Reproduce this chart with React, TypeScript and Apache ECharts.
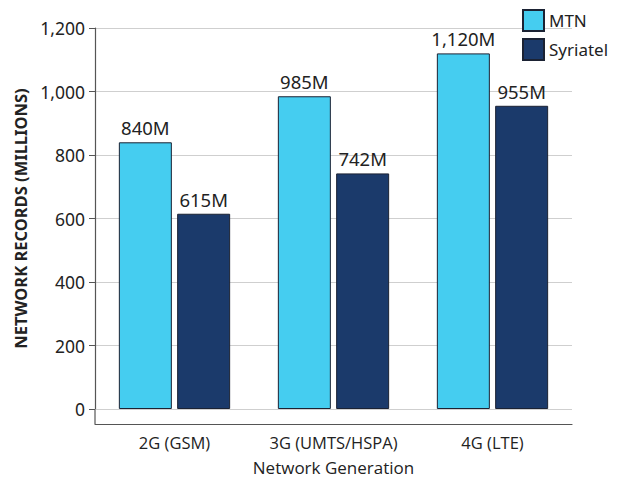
import { useEffect, useRef } from 'react'
import * as echarts from 'echarts'

const categories = ['2G (GSM)', '3G (UMTS/HSPA)', '4G (LTE)']
const mtn = [840, 985, 1120]
const syriatel = [615, 742, 955]
const seriesNames = ['MTN', 'Syriatel']

const fmt = (v: number) => v.toLocaleString('en-US')

export default function App() {
  const ref = useRef<HTMLDivElement>(null)

  useEffect(() => {
    if (!ref.current) return
    const chart = echarts.init(ref.current, undefined, { renderer: 'svg' })
    const font = "'Noto Sans', sans-serif"
    const border = { borderColor: '#1b2233', borderWidth: 1 }
    chart.setOption({
      animation: false,
      backgroundColor: '#ffffff',
      textStyle: { fontFamily: font },
      grid: { left: 95, right: 70, top: 28, bottom: 80 },
      legend: {
        orient: 'vertical',
        left: 522,
        top: 9,
        padding: 0,
        itemWidth: 21,
        itemHeight: 21,
        itemGap: 6,
        icon: 'rect',
        textStyle: { fontSize: 17, color: '#222', fontFamily: font },
        data: seriesNames,
      },
      xAxis: {
        type: 'category',
        data: categories,
        offset: 15,
        axisLine: { onZero: false, lineStyle: { color: '#555', width: 1.2 } },
        axisTick: { alignWithLabel: true, length: 6, lineStyle: { color: '#555' } },
        axisLabel: { interval: 0, hideOverlap: false, fontSize: 16.5, color: '#222', margin: 10, fontFamily: "'Open Sans', sans-serif" },
        name: 'Network Generation',
        nameLocation: 'middle',
        nameGap: 35,
        nameTextStyle: { fontSize: 17, color: '#222', fontFamily: "'Open Sans', sans-serif" },
      },
      yAxis: {
        type: 'value',
        min: 0,
        max: 1200,
        interval: 200,
        axisLine: { show: true, lineStyle: { color: '#555', width: 1.2 } },
        axisTick: { show: true, length: 6, lineStyle: { color: '#555' } },
        axisLabel: { fontSize: 17.5, color: '#222', margin: 10, formatter: (v: number) => fmt(v) },
        splitLine: { lineStyle: { color: '#cfcfcf' } },
        name: 'NETWORK RECORDS (MILLIONS)',
        nameLocation: 'middle',
        nameGap: 66,
        nameTextStyle: { fontSize: 16.5, fontWeight: 'bold', color: '#222' },
      },
      series: [
        {
          name: seriesNames[0],
          type: 'bar',
          data: mtn,
          barWidth: 53,
          barGap: '10%',
          itemStyle: { color: '#45cdf0', ...border },
          label: { show: true, position: 'top', distance: 5, fontSize: 18.5, color: '#222', formatter: (p: any) => fmt(p.value) + 'M' },
        },
        {
          name: seriesNames[1],
          type: 'bar',
          data: syriatel,
          barWidth: 53,
          barGap: '10%',
          itemStyle: { color: '#1b3a6b', ...border },
          label: { show: true, position: 'top', distance: 5, fontSize: 18.5, color: '#222', formatter: (p: any) => fmt(p.value) + 'M' },
        },
      ],
      graphic: [
        { type: 'line', shape: { x1: 95, y1: 409, x2: 95, y2: 424 }, style: { stroke: '#555', lineWidth: 1.2 } },
      ],
    })
    return () => chart.dispose()
  }, [])

  return <div ref={ref} style={{ position: 'absolute', left: 0, top: 0, width: 642, height: 489 }} />
}
